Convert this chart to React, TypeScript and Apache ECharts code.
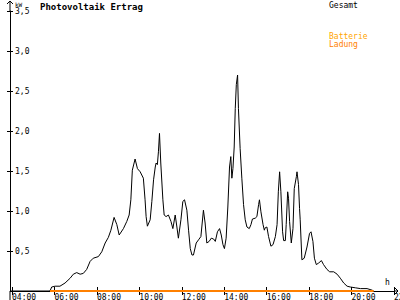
import React, { useEffect, useRef } from "react";
import * as echarts from "echarts";

const hours = [4.00, 5.79, 5.87, 6.03, 6.26, 6.50, 6.74, 6.89, 7.05, 7.21,
  7.36, 7.52, 7.68, 7.83, 8.07, 8.23, 8.39, 8.54, 8.66, 8.81,
  8.94, 9.05, 9.25, 9.41, 9.52, 9.60, 9.67, 9.80, 9.91, 10.04,
  10.19, 10.27, 10.32, 10.38, 10.51, 10.59, 10.67, 10.75, 10.79, 10.85,
  10.90, 10.95, 11.01, 11.11, 11.17, 11.26, 11.37, 11.49, 11.58, 11.69,
  11.77, 11.84, 11.96, 12.05, 12.13, 12.24, 12.32, 12.40, 12.48, 12.55,
  12.68, 12.79, 12.90, 13.02, 13.10, 13.18, 13.29, 13.39, 13.50, 13.58,
  13.68, 13.78, 13.86, 13.94, 14.01, 14.09, 14.17, 14.25, 14.31, 14.36,
  14.41, 14.47, 14.52, 14.57, 14.63, 14.67, 14.75, 14.83, 14.91, 14.99,
  15.07, 15.18, 15.26, 15.33, 15.46, 15.54, 15.62, 15.66, 15.73, 15.83,
  15.89, 15.93, 16.01, 16.09, 16.20, 16.30, 16.41, 16.49, 16.55, 16.61,
  16.67, 16.75, 16.80, 16.88, 16.92, 16.99, 17.03, 17.08, 17.16, 17.24,
  17.30, 17.40, 17.43, 17.50, 17.55, 17.58, 17.66, 17.77, 17.90, 18.02,
  18.09, 18.18, 18.25, 18.34, 18.45, 18.58, 18.68, 18.84, 18.97, 19.16,
  19.32, 19.47, 19.63, 19.79, 19.94, 20.18, 20.42, 20.73, 20.97, 21.04];

const gesamtKw = [0, 0, 0.05, 0.06, 0.06, 0.10, 0.16, 0.21, 0.23, 0.21,
  0.22, 0.27, 0.37, 0.41, 0.43, 0.49, 0.60, 0.67, 0.76, 0.92,
  0.83, 0.70, 0.78, 0.87, 0.95, 1.14, 1.51, 1.65, 1.53, 1.49,
  1.41, 1.14, 0.93, 0.81, 0.89, 1.12, 1.39, 1.55, 1.60, 1.58,
  1.74, 1.97, 1.60, 1.14, 0.95, 0.93, 0.95, 0.87, 0.78, 0.95,
  0.80, 0.66, 0.89, 1.12, 1.14, 1.01, 0.76, 0.53, 0.45, 0.45,
  0.60, 0.64, 0.68, 1.01, 0.85, 0.60, 0.62, 0.66, 0.65, 0.62,
  0.74, 0.78, 0.70, 0.58, 0.53, 0.66, 1.05, 1.55, 1.68, 1.41,
  1.53, 1.80, 2.28, 2.58, 2.70, 2.28, 1.78, 1.41, 1.08, 0.89,
  0.80, 0.78, 0.83, 0.90, 0.91, 0.93, 1.08, 1.14, 0.99, 0.83,
  0.76, 0.79, 0.80, 0.68, 0.56, 0.58, 0.68, 0.83, 1.24, 1.49,
  1.24, 0.74, 0.63, 0.63, 0.83, 1.24, 1.16, 0.87, 0.60, 0.78,
  1.28, 1.43, 1.49, 1.33, 1.03, 0.89, 0.39, 0.41, 0.55, 0.72,
  0.74, 0.62, 0.41, 0.33, 0.35, 0.38, 0.33, 0.27, 0.24, 0.24,
  0.21, 0.16, 0.10, 0.06, 0.05, 0.04, 0.03, 0.03, 0.01, 0];

const batteryHours = [5.79, 21.04];
const batteryKw = [0, 0];

const xMin = 4;
const xMax = 22;
const xInterval = 2;
const yMin = 0;
const yMax = 3.5;
const yInterval = 0.5;

const MONO = "'DejaVu Sans Mono', monospace";

export default function App() {
  const ref = useRef<HTMLDivElement>(null);
  useEffect(() => {
    if (!ref.current) return;
    const chart = echarts.init(ref.current, undefined, { renderer: "svg" });
    const fmtX = (v: number) => (v < 10 ? "0" : "") + v + ":00";
    const fmtY = (v: number) => v.toFixed(1).replace(".", ",");
    const baseX = {
      type: "value",
      min: xMin,
      max: xMax,
      interval: xInterval,
      splitLine: { show: false },
    };
    const baseY = {
      type: "value",
      min: yMin,
      max: yMax,
      interval: yInterval,
      offset: 2,
      splitLine: { show: false },
    };
    chart.setOption({
      animation: false,
      backgroundColor: "#ffffff",
      grid: { left: 12, right: 6, top: 11, bottom: 9, containLabel: false, outerBoundsMode: "none" },
      xAxis: [
        {
          ...baseX,
          axisLine: { show: true, lineStyle: { color: "#000", width: 1 } },
          axisTick: { show: true, length: 4, lineStyle: { color: "#000" } },
          axisLabel: {
            show: true,
            formatter: fmtX,
            align: "left",
            margin: 2,
            color: "#000",
            fontFamily: MONO,
            fontSize: 8,
            verticalAlign: "top",
            hideOverlap: false,
          },
        },
        {
          ...baseX,
          position: "bottom",
          axisLine: { show: false },
          axisTick: { show: true, inside: true, length: 4, lineStyle: { color: "#000" } },
          axisLabel: { show: false },
        },
      ],
      yAxis: [
        {
          ...baseY,
          axisLine: { show: true, lineStyle: { color: "#000", width: 1 } },
          axisTick: { show: true, length: 3, lineStyle: { color: "#000" } },
          axisLabel: {
            show: true,
            inside: true,
            margin: 5,
            formatter: fmtY,
            showMinLabel: false,
            color: "#000",
            fontFamily: MONO,
            fontSize: 8,
          },
        },
        {
          ...baseY,
          position: "left",
          axisLine: { show: false },
          axisTick: { show: true, inside: true, length: 3, lineStyle: { color: "#000" } },
          axisLabel: { show: false },
        },
      ],
      series: [
        {
          name: "Gesamt",
          type: "line",
          data: hours.map((h, i) => [h, gesamtKw[i]]),
          showSymbol: false,
          symbol: "none",
          lineStyle: { color: "#000", width: 1 },
          z: 3,
        },
        {
          name: "Batterie Ladung",
          type: "line",
          data: batteryHours.map((h, i) => [h, batteryKw[i]]),
          showSymbol: false,
          symbol: "none",
          lineStyle: { color: "#ff8000", width: 2 },
          z: 4,
        },
      ],
      graphic: [
        { type: "line", shape: { x1: 10, y1: 11, x2: 10, y2: 1 }, style: { stroke: "#000", lineWidth: 1 } },
        { type: "polyline", shape: { points: [[7, 4], [10, 1], [13, 4]] }, style: { stroke: "#000", fill: "none", lineWidth: 1 } },
        { type: "line", shape: { x1: 10, y1: 291, x2: 10, y2: 300 }, style: { stroke: "#000", lineWidth: 1 } },
        { type: "line", shape: { x1: 10, y1: 291, x2: 12, y2: 291 }, style: { stroke: "#000", lineWidth: 1 } },
        { type: "line", shape: { x1: 394, y1: 291, x2: 398, y2: 291 }, style: { stroke: "#000", lineWidth: 1 } },
        { type: "polyline", shape: { points: [[395, 288], [398, 291], [395, 294]] }, style: { stroke: "#000", fill: "none", lineWidth: 1 } },
        { type: "text", x: 15, y: 1, style: { text: "kW", fill: "#000", font: `6px ${MONO}` } },
        { type: "text", x: 385, y: 278, style: { text: "h", fill: "#000", font: `8px ${MONO}` } },
        { type: "text", x: 40, y: 2, style: { text: "Photovoltaik Ertrag", fill: "#000", font: `bold 9px ${MONO}` } },
        { type: "text", x: 329, y: 1, style: { text: "Gesamt", fill: "#000", font: `8px ${MONO}` } },
        { type: "text", x: 329, y: 32, style: { text: "Batterie", fill: "#ffa500", font: `8px ${MONO}` } },
        { type: "text", x: 329, y: 40, style: { text: "Ladung", fill: "#ff8000", font: `8px ${MONO}` } },
      ],
    });
    return () => chart.dispose();
  }, []);
  return <div ref={ref} style={{ width: 400, height: 300, position: "absolute", left: 0, top: 0 }} />;
}
